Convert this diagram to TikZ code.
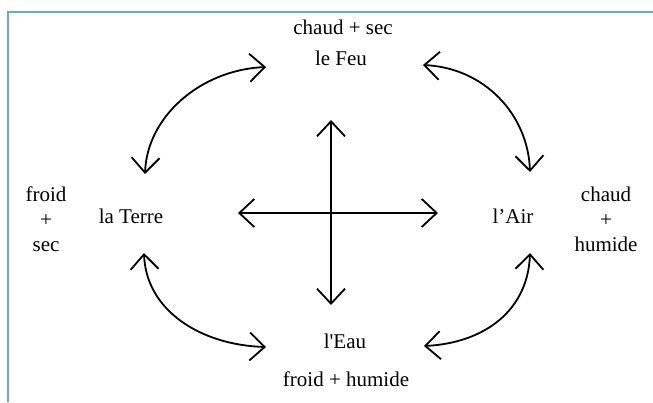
\documentclass[tikz,border=0pt]{standalone}
\usepackage{fontspec}
\setmainfont{Liberation Serif}
\usepackage{tikz}
\usetikzlibrary{arrows.meta}
\definecolor{framecol}{RGB}{100,172,198}
\tikzset{
  elem/.style={inner sep=1pt,font=\fontsize{10.5}{12.5}\selectfont},
  qual/.style={elem,align=center}
}

\begin{document}
\begin{tikzpicture}[x=0.5pt, y=-0.5pt, line width=0.9pt, <->, >={Straight Barb[length=7.5pt,width=14pt]}]
  \useasboundingbox (0,0) rectangle (653,402);
  \draw[-,framecol,line width=1pt] (653,12) -- (8,12) -- (8,402);

  % the four elements
  \node [elem] (feu)   at (341, 58)  {le Feu};
  \node [elem] (terre) at (131, 216) {la Terre};
  \node [elem] (air)   at (513, 216) {l’Air};
  \node [elem] (eau)   at (345, 341) {l\textquotesingle Eau};

  % their qualities
  \node [qual] (qfeu)   at (343, 27)  {chaud + sec};
  \node [qual] (qterre) at (46, 219)  {froid\\+\\sec};
  \node [qual] (qair)   at (606, 219) {chaud\\+\\humide};
  \node [qual] (qeau)   at (346, 379) {froid + humide};

  % arrow ends
  \coordinate (tl1) at (145,174);
  \coordinate (tl2) at (266,67);
  \coordinate (tr1) at (423,65);
  \coordinate (tr2) at (530,172);
  \coordinate (bl1) at (144,253);
  \coordinate (bl2) at (266,347);
  \coordinate (br1) at (424,346);
  \coordinate (br2) at (530,253);

  \draw (tl1) .. controls (147,117) and (200,70) .. (tl2);
  \draw (tr1) .. controls (485,68) and (528,115) .. (tr2);
  \draw (bl1) .. controls (146,310) and (200,345) .. (bl2);
  \draw (br2) .. controls (528,310) and (485,343) .. (br1);

  % the cross
  \coordinate (up)    at (331,120);
  \coordinate (down)  at (331,305);
  \coordinate (left)  at (238,213);
  \coordinate (right) at (438,213);
  \draw (up) -- (down);
  \draw (left) -- (right);
\end{tikzpicture}
\end{document}
